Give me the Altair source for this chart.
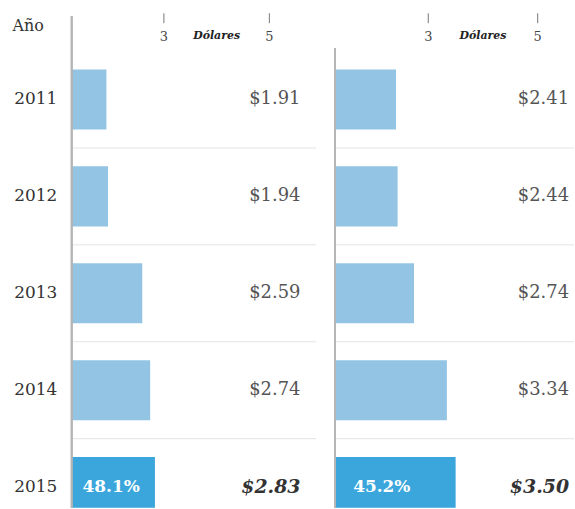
import altair as alt
import pandas as pd

# ---- data ----
years = ["2011", "2012", "2013", "2014", "2015"]
left_values = [1.91, 1.94, 2.59, 2.74, 2.83]
right_values = [2.41, 2.44, 2.74, 3.34, 3.50]
share_2015 = ["48.1%", "45.2%"]
tick_values = [3, 5]
axis_word = "Dólares"
year_title = "Año"
highlight_year = "2015"

FONT = "DejaVu Serif"
H = 509
LIGHT = "#93c4e4"
DARK = "#3aa6dc"


def panel(values, share, width, domain, line_top, value_x, share_x, show_axis):
    df = pd.DataFrame({"year": years, "value": values})
    df["label"] = ["$%.2f" % v for v in values]
    df["hl"] = df["year"] == highlight_year
    df["share"] = [share if y == highlight_year else "" for y in years]

    yscale = alt.Scale(domain=years, range=[50, 537], paddingInner=0.38, paddingOuter=0.19)
    if show_axis:
        yaxis = alt.Axis(
            title=year_title, titleAngle=0, titleAlign="left", titleBaseline="alphabetic",
            titleX=-60, titleY=29, titleFont=FONT, titleFontSize=16, titleFontWeight="normal",
            titleColor="#333", labelFont=FONT, labelFontSize=17, labelColor="#333",
            labelPadding=15, ticks=False, domain=False, grid=False,
            minExtent=72, maxExtent=72,
        )
    else:
        yaxis = None
    y = alt.Y("year:N", scale=yscale, axis=yaxis, sort=years, title=year_title if show_axis else None)
    xscale = alt.Scale(domain=domain, zero=False, nice=False)
    x = alt.X("value:Q", scale=xscale, axis=None)

    base = alt.Chart(df)

    seps = base.transform_filter(alt.datum.year != years[0]).mark_rule(
        color="#e4e4e4", strokeWidth=1
    ).encode(y=y, yOffset=alt.value(-18.5), x=alt.value(0), x2=alt.value(width))

    vline = base.mark_rule(color="#b5b5b5", strokeWidth=1.5).encode(
        x=alt.value(0), y=alt.value(line_top), y2=alt.value(H)
    )

    bars = base.mark_bar(clip=True).encode(
        x=x, y=y,
        color=alt.condition(alt.datum.hl, alt.value(DARK), alt.value(LIGHT)),
    )

    vals = base.transform_filter(alt.datum.year != highlight_year).mark_text(
        align="right", baseline="middle", font=FONT, fontSize=18, color="#555"
    ).encode(x=alt.value(value_x), y=y, text="label:N")

    vals_hl = base.transform_filter(alt.datum.year == highlight_year).mark_text(
        align="right", baseline="middle", font=FONT, fontSize=19, fontWeight="bold",
        fontStyle="italic", color="#333"
    ).encode(x=alt.value(value_x), y=y, text="label:N")

    share_txt = base.transform_filter(alt.datum.year == highlight_year).mark_text(
        align="left", baseline="middle", font=FONT, fontSize=17, fontWeight="bold", color="white"
    ).encode(x=alt.value(share_x), y=y, text="share:N")

    tdf = pd.DataFrame({"t": tick_values, "tl": [str(t) for t in tick_values]})
    tx = alt.X("t:Q", scale=xscale, axis=None)
    tick_rules = alt.Chart(tdf).mark_rule(color="#777", strokeWidth=1).encode(
        x=tx, y=alt.value(12), y2=alt.value(22)
    )
    tick_text = alt.Chart(tdf).mark_text(
        baseline="middle", font=FONT, fontSize=13, color="#444"
    ).encode(x=tx, y=alt.value(36), text="tl:N")
    word = alt.Chart(tdf).transform_filter(alt.datum.t == tick_values[0]).mark_text(
        baseline="middle", font=FONT, fontSize=11, fontWeight="bold", fontStyle="italic", color="#222"
    ).encode(x=alt.datum((tick_values[0] + tick_values[1]) / 2), y=alt.value(35), text=alt.value(axis_word))

    return alt.layer(
        seps, bars, vline, vals, vals_hl, share_txt, tick_rules, tick_text, word
    ).properties(width=width, height=H)


left = panel(left_values, share_2015[0], 246, [1.25, 1.25 + 246 / 53], 15, 230, 11, True)
right = panel(right_values, share_2015[1], 240, [1.3, 1.3 + 240 / 55], 47, 235, 18, False)

chart = alt.hconcat(left, right, spacing=17).properties(
    padding={"left": 0, "right": 0, "top": 0, "bottom": 0},
    background="white",
).configure_view(strokeWidth=0, stroke="transparent")

chart.save("out.html", embed_options={"renderer": "svg", "actions": False})
